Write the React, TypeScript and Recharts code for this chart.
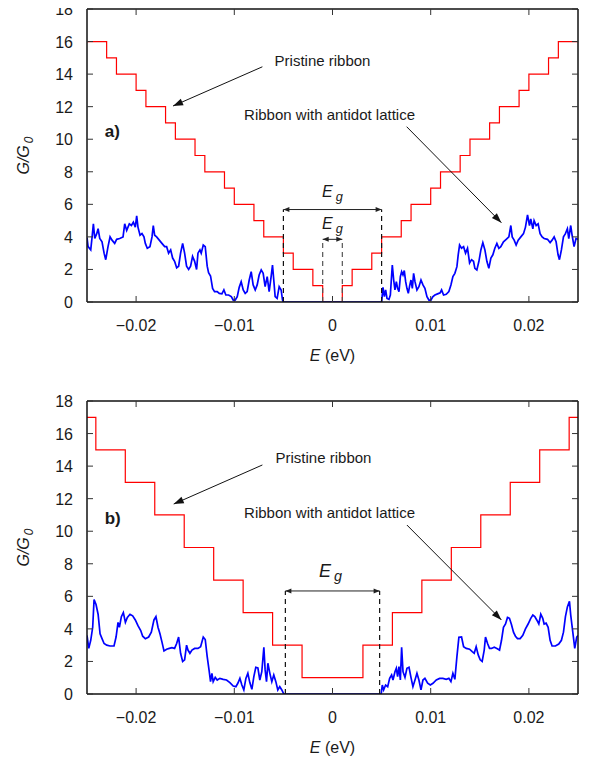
import React from "react";
import { ComposedChart, Line, XAxis, YAxis, ReferenceLine, ReferenceDot } from "recharts";

type Pt = [number, number];

const FONT = "'Liberation Sans', Arial, Helvetica, sans-serif";

const xTicks = [-0.02, -0.01, 0, 0.01, 0.02];
const yTicks = [0, 2, 4, 6, 8, 10, 12, 14, 16, 18];

// pristine ribbon, conductance plateaus (value holds from E onward)
const stepsA: Pt[] = [
  [-0.025, 16], [-0.023, 15], [-0.022, 14], [-0.02, 13], [-0.019, 12], [-0.017, 11],
  [-0.016, 10], [-0.014, 9], [-0.013, 8], [-0.011, 7], [-0.01, 6], [-0.008, 5],
  [-0.007, 4], [-0.005, 3], [-0.004, 2], [-0.002, 1], [-0.001, 0], [0.001, 1],
  [0.002, 2], [0.004, 3], [0.005, 4], [0.007, 5], [0.008, 6], [0.01, 7], [0.011, 8],
  [0.013, 9], [0.014, 10], [0.016, 11], [0.017, 12], [0.019, 13], [0.02, 14],
  [0.022, 15], [0.023, 16], [0.025, 16],
];
const stepsB: Pt[] = [
  [-0.025, 17], [-0.0241, 15], [-0.0211, 13], [-0.0181, 11], [-0.0151, 9], [-0.0121, 7],
  [-0.0091, 5], [-0.0061, 3], [-0.0031, 1], [0.0031, 3], [0.0061, 5], [0.0091, 7],
  [0.0121, 9], [0.0151, 11], [0.0181, 13], [0.0211, 15], [0.0241, 17], [0.025, 17],
];

// ribbon with antidot lattice
const antidotALeft: Pt[] = [
  [-0.025, 3.95], [-0.02489, 3.4], [-0.02462, 3.2], [-0.02448, 4.0], [-0.02435, 4.8], [-0.02421, 3.9],
  [-0.02401, 4.2], [-0.02387, 4.5], [-0.0237, 3.9], [-0.02347, 3.7], [-0.02326, 3.0], [-0.02309, 2.6],
  [-0.02286, 3.4], [-0.02265, 4.0], [-0.02245, 3.8], [-0.02218, 3.6], [-0.02198, 3.85], [-0.02167, 3.9],
  [-0.02133, 4.0], [-0.02116, 4.8], [-0.02096, 4.4], [-0.02069, 4.8], [-0.02048, 4.7], [-0.02028, 4.9],
  [-0.02008, 4.6], [-0.01994, 5.3], [-0.01981, 4.6], [-0.0196, 4.1], [-0.0194, 4.2], [-0.0192, 4.0],
  [-0.01906, 3.6], [-0.01886, 3.3], [-0.01859, 3.4], [-0.01838, 4.0], [-0.01825, 4.7], [-0.01811, 4.1],
  [-0.01791, 4.0], [-0.01764, 3.8], [-0.01737, 3.6], [-0.01709, 3.4], [-0.01689, 3.4], [-0.01669, 3.0],
  [-0.01648, 3.2], [-0.01628, 2.7], [-0.01608, 2.5], [-0.01587, 2.1], [-0.01567, 2.2], [-0.01547, 3.0],
  [-0.01526, 3.6], [-0.01506, 3.0], [-0.01486, 2.2], [-0.01465, 2.0], [-0.01445, 2.2], [-0.01425, 2.8],
  [-0.01404, 2.5], [-0.01384, 2.0], [-0.0137, 3.0], [-0.0135, 3.2], [-0.01337, 3.0], [-0.01316, 3.5],
  [-0.01296, 3.4], [-0.01276, 2.2], [-0.01262, 1.8], [-0.01242, 1.6], [-0.01221, 0.84], [-0.01201, 0.64],
  [-0.01174, 0.64], [-0.01153, 0.53], [-0.01126, 0.5], [-0.01106, 0.74], [-0.01086, 0.43], [-0.01058, 0.43],
  [-0.01031, 0.33], [-0.01011, 0.12], [-0.00991, 0.12], [-0.0097, 0.33], [-0.0095, 0.9], [-0.0093, 1.25],
  [-0.00909, 0.74], [-0.00889, 0.53], [-0.00869, 0.64], [-0.00848, 1.35], [-0.00828, 1.86], [-0.00808, 1.05],
  [-0.00787, 0.74], [-0.00767, 1.05], [-0.00747, 1.66], [-0.00726, 1.97], [-0.00706, 1.76], [-0.00686, 0.94],
  [-0.00665, 1.56], [-0.00645, 0.64], [-0.00625, 1.56], [-0.00611, 2.27], [-0.00598, 1.35], [-0.00584, 0.33],
  [-0.00564, 0.22], [-0.00543, 0.94], [-0.00523, 0.74], [-0.00509, 0.12], [-0.005, 0],
];
const antidotARight: Pt[] = [
  [0.005, 0], [0.00514, 0.9], [0.00528, 0.33], [0.00541, 0.74], [0.00555, 0.22], [0.00575, 0.16],
  [0.00589, 0.43], [0.00609, 2.27], [0.00623, 1.35], [0.00636, 0.74], [0.0065, 1.25], [0.00663, 0.84],
  [0.00677, 0.64], [0.00691, 1.56], [0.00704, 1.86], [0.00718, 1.66], [0.00731, 1.93], [0.00745, 1.25],
  [0.00758, 0.84], [0.00772, 0.53], [0.00785, 0.98], [0.00799, 1.35], [0.00813, 0.84], [0.00826, 1.76],
  [0.0084, 1.25], [0.0086, 0.74], [0.0088, 0.94], [0.00901, 1.35], [0.00921, 1.05], [0.00941, 0.84],
  [0.00962, 0.33], [0.00982, 0.12], [0.01002, 0.12], [0.01023, 0.33], [0.01043, 0.43], [0.0107, 0.5],
  [0.01097, 0.57], [0.01111, 0.74], [0.01131, 0.43], [0.01158, 0.47], [0.01185, 0.64], [0.01206, 1.05],
  [0.01226, 1.56], [0.01246, 1.76], [0.01267, 2.17], [0.0128, 2.9], [0.01294, 3.5], [0.01314, 3.3],
  [0.01335, 3.4], [0.01355, 3.0], [0.01375, 3.3], [0.01396, 2.4], [0.01416, 2.6], [0.01436, 2.5],
  [0.0145, 2.07], [0.0147, 1.97], [0.01491, 2.5], [0.01511, 3.2], [0.01531, 3.65], [0.01552, 3.2],
  [0.01572, 2.5], [0.01592, 2.07], [0.01613, 2.7], [0.01633, 2.9], [0.01653, 3.3], [0.01674, 3.6],
  [0.01694, 3.3], [0.01714, 3.4], [0.01741, 3.7], [0.01769, 3.85], [0.01796, 4.0], [0.01816, 4.7],
  [0.0183, 4.0], [0.0185, 3.8], [0.0187, 3.5], [0.01891, 3.8], [0.01918, 4.0], [0.01945, 4.2],
  [0.01965, 4.6], [0.01986, 5.35], [0.02006, 4.7], [0.02019, 5.1], [0.0204, 4.5], [0.02053, 5.0],
  [0.02074, 4.7], [0.02094, 4.8], [0.02114, 4.2], [0.02135, 4.0], [0.02155, 3.9], [0.02189, 3.85],
  [0.02216, 3.65], [0.02236, 3.8], [0.02257, 4.0], [0.02277, 3.7], [0.02297, 2.9], [0.02311, 2.6],
  [0.02331, 3.2], [0.02352, 4.0], [0.02372, 4.2], [0.02392, 4.5], [0.02406, 3.9], [0.02426, 4.7],
  [0.0244, 4.1], [0.0246, 3.4], [0.0248, 3.9], [0.025, 3.85],
];
const antidotBLeft: Pt[] = [
  [-0.025, 3.6], [-0.02482, 2.8], [-0.02462, 3.3], [-0.02442, 4.1], [-0.02428, 5.8], [-0.02408, 5.5],
  [-0.02387, 4.9], [-0.02367, 3.7], [-0.02347, 3.4], [-0.02326, 3.1], [-0.02299, 3.0], [-0.02265, 2.95],
  [-0.02225, 2.95], [-0.02204, 3.5], [-0.02184, 4.4], [-0.0217, 4.1], [-0.0215, 4.75], [-0.0213, 5.0],
  [-0.02109, 4.4], [-0.02089, 4.7], [-0.02062, 4.9], [-0.02035, 4.8], [-0.02008, 4.55], [-0.01981, 4.2],
  [-0.01953, 3.9], [-0.01933, 3.55], [-0.01906, 3.4], [-0.01872, 3.5], [-0.01845, 3.8], [-0.01818, 4.55],
  [-0.01798, 4.75], [-0.01777, 4.1], [-0.01757, 3.7], [-0.01737, 3.2], [-0.01716, 2.65], [-0.01689, 2.75],
  [-0.01662, 2.8], [-0.01635, 2.85], [-0.01608, 2.8], [-0.01587, 3.1], [-0.01567, 3.5], [-0.01547, 2.5],
  [-0.01526, 2.0], [-0.01506, 2.1], [-0.01486, 3.0], [-0.01472, 2.7], [-0.01452, 2.5], [-0.01431, 2.7],
  [-0.01404, 2.8], [-0.0137, 2.8], [-0.01343, 2.9], [-0.01316, 3.5], [-0.01296, 3.35], [-0.01276, 2.3],
  [-0.01255, 1.37], [-0.01242, 0.76], [-0.01228, 1.27], [-0.01215, 0.76], [-0.01194, 1.02], [-0.01174, 0.86],
  [-0.01147, 0.96], [-0.01113, 0.9], [-0.01079, 0.86], [-0.01045, 0.7], [-0.01011, 0.49], [-0.00984, 0.45],
  [-0.00964, 0.66], [-0.00943, 0.96], [-0.00923, 0.55], [-0.00903, 0.25], [-0.00882, 0.96], [-0.00862, 1.27],
  [-0.00842, 0.7], [-0.00821, 0.29], [-0.00801, 1.07], [-0.00781, 1.64], [-0.0076, 1.6], [-0.0074, 0.86],
  [-0.0072, 1.37], [-0.00699, 2.87], [-0.00686, 1.48], [-0.00672, 0.76], [-0.00658, 1.89], [-0.00638, 1.27],
  [-0.00618, 0.76], [-0.00598, 1.17], [-0.00577, 0.76], [-0.00557, 0.25], [-0.00537, 0.45], [-0.00516, 0.25],
  [-0.00496, 0],
];
const antidotBRight: Pt[] = [
  [0.00496, 0], [0.00507, 0.55], [0.00521, 0.25], [0.00541, 0.55], [0.00562, 0.45], [0.00582, 0.96],
  [0.00602, 1.17], [0.00616, 0.86], [0.00636, 1.37], [0.0065, 1.58], [0.00663, 1.07], [0.00677, 1.68],
  [0.00691, 0.86], [0.00704, 2.87], [0.00718, 1.37], [0.00738, 1.02], [0.00758, 1.58], [0.00779, 1.64],
  [0.00799, 1.02], [0.00819, 0.45], [0.0084, 0.86], [0.0086, 1.27], [0.0088, 0.86], [0.00901, 0.25],
  [0.00921, 0.86], [0.00941, 0.96], [0.00969, 0.66], [0.00996, 0.55], [0.01023, 0.66], [0.01057, 0.86],
  [0.01091, 0.96], [0.01124, 0.96], [0.01158, 0.9], [0.01185, 0.96], [0.01206, 0.76], [0.01226, 1.27],
  [0.01246, 0.9], [0.01267, 2.3], [0.01287, 3.48], [0.01314, 3.5], [0.01335, 2.9], [0.01362, 2.8],
  [0.01396, 2.75], [0.01423, 2.6], [0.01443, 2.5], [0.01463, 2.9], [0.01484, 2.4], [0.01504, 2.1],
  [0.01524, 2.0], [0.01545, 2.7], [0.01558, 3.5], [0.01579, 3.1], [0.01599, 2.8], [0.01619, 2.8],
  [0.01647, 2.87], [0.01674, 2.8], [0.01701, 2.7], [0.01721, 3.3], [0.01741, 4.1], [0.01762, 4.3],
  [0.01782, 4.7], [0.01802, 4.65], [0.01823, 4.25], [0.01843, 3.8], [0.01863, 3.55], [0.01884, 3.4],
  [0.01911, 3.4], [0.01938, 3.6], [0.01965, 4.0], [0.01992, 4.3], [0.02019, 4.65], [0.0204, 4.85],
  [0.0206, 4.75], [0.0208, 4.55], [0.02101, 4.3], [0.02121, 4.9], [0.02141, 4.65], [0.02155, 4.3],
  [0.02175, 4.35], [0.02196, 4.1], [0.02216, 3.3], [0.02236, 2.95], [0.0227, 2.95], [0.02304, 3.07],
  [0.02331, 3.3], [0.02352, 3.8], [0.02372, 4.75], [0.02392, 5.35], [0.02413, 5.7], [0.02426, 4.85],
  [0.02447, 3.8], [0.02467, 2.8], [0.02487, 3.5], [0.025, 3.6],
];

const toRows = (pts: Pt[]) => pts.map(([E, G]) => ({ E, G }));

type Gap = { half: number; level: number; labelAt: Pt; font: number; color: string };
type Note = {
  tag: string;
  tagAt: Pt;
  pristineAt: Pt;
  pristineArrow: [Pt, Pt];
  antidotAt: Pt;
  antidotArrow: [Pt, Pt];
  gaps: Gap[];
};

const noteA: Note = {
  tag: "a)",
  tagAt: [-0.0232, 10.5],
  pristineAt: [-0.0059, 14.8],
  pristineArrow: [[-0.00714, 14.45], [-0.01624, 12.04]],
  antidotAt: [-0.009, 11.49],
  antidotArrow: [[0.00755, 10.77], [0.0172, 4.87]],
  gaps: [
    { half: 0.005, level: 5.68, labelAt: [0, 6.8], font: 16, color: "#111" },
    { half: 0.001, level: 3.85, labelAt: [0, 4.85], font: 16, color: "#555" },
  ],
};
const noteB: Note = {
  tag: "b)",
  tagAt: [-0.0232, 10.81],
  pristineAt: [-0.0058, 14.5],
  pristineArrow: [[-0.00714, 14.07], [-0.01617, 11.67]],
  antidotAt: [-0.009, 11.12],
  antidotArrow: [[0.00758, 10.38], [0.0172, 4.55]],
  gaps: [{ half: 0.0048, level: 6.33, labelAt: [-0.0002, 7.6], font: 18, color: "#111" }],
};

const fmtX = (v: number) => (v === 0 ? "0" : v < 0 ? "\u2212" + Math.abs(v) : String(v));

const BottomTick = (p: any) => (
  <g>
    <line x1={p.x} y1={p.y} x2={p.x} y2={p.y - 6} stroke="#333" strokeWidth={1} />
    <text x={p.x} y={p.y + 29} textAnchor="middle" fontSize={16} fill="#1a1a1a" fontFamily={FONT}>
      {fmtX(p.payload.value)}
    </text>
  </g>
);
const TopTick = (p: any) => <line x1={p.x} y1={p.y} x2={p.x} y2={p.y + 6} stroke="#333" strokeWidth={1} />;
const LeftTick = (p: any) => (
  <g>
    <line x1={p.x} y1={p.y} x2={p.x + 6} y2={p.y} stroke="#333" strokeWidth={1} />
    <text x={p.x - 14} y={p.y + 6} textAnchor="end" fontSize={16} fill="#1a1a1a" fontFamily={FONT}>
      {p.payload.value}
    </text>
  </g>
);
const RightTick = (p: any) => <line x1={p.x} y1={p.y} x2={p.x - 6} y2={p.y} stroke="#333" strokeWidth={1} />;

const XLabel = (p: any) => {
  const { x, y, width } = p.viewBox;
  return (
    <text x={x + width / 2} y={y + 59} textAnchor="middle" fontSize={16} fill="#1a1a1a" fontFamily={FONT}>
      <tspan fontStyle="italic">E</tspan> (eV)
    </text>
  );
};
const YLabel = (p: any) => {
  const { x, y, height } = p.viewBox;
  const cx = x + 21;
  const cy = y + height / 2;
  return (
    <text x={cx} y={cy} transform={`rotate(-90 ${cx} ${cy})`} textAnchor="middle" fontSize={16} fill="#1a1a1a" fontFamily={FONT}>
      <tspan fontStyle="italic">G/G</tspan>
      <tspan fontStyle="italic" fontSize={12} dx={2} dy={4}>0</tspan>
    </text>
  );
};

function arrowShape(both: boolean, head: number, half: number, color: string) {
  return (p: any) => {
    const { x1, y1, x2, y2 } = p;
    const len = Math.hypot(x2 - x1, y2 - y1) || 1;
    const ux = (x2 - x1) / len;
    const uy = (y2 - y1) / len;
    const tri = (tx: number, ty: number, sx: number, sy: number) =>
      `${tx},${ty} ${tx - sx * head - sy * half},${ty - sy * head + sx * half} ${tx - sx * head + sy * half},${ty - sy * head - sx * half}`;
    return (
      <g>
        <line x1={x1} y1={y1} x2={x2} y2={y2} stroke={color} strokeWidth={1} />
        <polygon points={tri(x2, y2, ux, uy)} fill={color} />
        {both && <polygon points={tri(x1, y1, -ux, -uy)} fill={color} />}
      </g>
    );
  };
}

const textShape = (content: React.ReactNode, size: number, weight = "normal", anchor = "start") => (p: any) => (
  <text x={p.cx} y={p.cy} dy="0.35em" textAnchor={anchor} fontSize={size} fontWeight={weight} fill="#1a1a1a" fontFamily={FONT}>
    {content}
  </text>
);

const gapLabel = (size: number) => (
  <>
    <tspan fontStyle="italic">E</tspan>
    <tspan fontStyle="italic" fontSize={size * 0.8} dx={3} dy={size * 0.25}>g</tspan>
  </>
);

function Panel(props: { steps: Pt[]; antidot: Pt[]; note: Note; height: number; top: number; axisHeight: number }) {
  const { steps, antidot, note, height, top, axisHeight } = props;
  const frame = { stroke: "#111", strokeWidth: 1.5 };
  return (
    <ComposedChart width={590} height={height} margin={{ top, right: 11, bottom: 0, left: 8 }} style={{ overflow: "visible" }}>
      <XAxis
        type="number"
        dataKey="E"
        domain={[-0.025, 0.025]}
        ticks={xTicks}
        allowDataOverflow
        interval={0}
        height={axisHeight}
        tickSize={0}
        tickMargin={0}
        tickLine={false}
        tick={BottomTick}
        axisLine={frame}
        label={XLabel}
      />
      <XAxis
        xAxisId="top"
        orientation="top"
        type="number"
        dataKey="E"
        domain={[-0.025, 0.025]}
        ticks={xTicks}
        allowDataOverflow
        interval={0}
        height={1}
        tickSize={0}
        tickMargin={0}
        tickLine={false}
        tick={TopTick}
        axisLine={frame}
      />
      <YAxis
        type="number"
        domain={[0, 18]}
        ticks={yTicks}
        allowDataOverflow
        interval={0}
        width={79}
        tickSize={0}
        tickMargin={0}
        tickLine={false}
        tick={LeftTick}
        axisLine={frame}
        label={YLabel}
      />
      <YAxis
        yAxisId="right"
        orientation="right"
        type="number"
        domain={[0, 18]}
        ticks={yTicks}
        allowDataOverflow
        interval={0}
        width={1}
        tickSize={0}
        tickMargin={0}
        tickLine={false}
        tick={RightTick}
        axisLine={frame}
      />

      <Line
        xAxisId="top"
        yAxisId="right"
        data={toRows(steps)}
        dataKey="G"
        type="stepAfter"
        stroke="#ff0000"
        strokeWidth={1.2}
        dot={false}
        isAnimationActive={false}
      />
      <Line data={toRows(antidot)} dataKey="G" type="linear" stroke="#0000ff" strokeWidth={1.7} dot={false} isAnimationActive={false} />

      {note.gaps.map((g, i) => (
        <ReferenceLine key={`dl${i}`} segment={[{ x: -g.half, y: 0 }, { x: -g.half, y: g.level }]} stroke={g.color} strokeWidth={1.2} strokeDasharray="5 4" />
      ))}
      {note.gaps.map((g, i) => (
        <ReferenceLine key={`dr${i}`} segment={[{ x: g.half, y: 0 }, { x: g.half, y: g.level }]} stroke={g.color} strokeWidth={1.2} strokeDasharray="5 4" />
      ))}
      {note.gaps.map((g, i) => (
        <ReferenceLine key={`ga${i}`} segment={[{ x: -g.half, y: g.level }, { x: g.half, y: g.level }]} shape={arrowShape(true, 6, 2.5, "#222")} />
      ))}
      {note.gaps.map((g, i) => (
        <ReferenceDot key={`gl${i}`} x={g.labelAt[0]} y={g.labelAt[1]} r={0} shape={textShape(gapLabel(g.font), g.font, "normal", "middle")} />
      ))}

      <ReferenceLine
        segment={[{ x: note.pristineArrow[0][0], y: note.pristineArrow[0][1] }, { x: note.pristineArrow[1][0], y: note.pristineArrow[1][1] }]}
        shape={arrowShape(false, 10, 3.5, "#111")}
      />
      <ReferenceLine
        segment={[{ x: note.antidotArrow[0][0], y: note.antidotArrow[0][1] }, { x: note.antidotArrow[1][0], y: note.antidotArrow[1][1] }]}
        shape={arrowShape(false, 10, 3.5, "#111")}
      />
      <ReferenceDot x={note.pristineAt[0]} y={note.pristineAt[1]} r={0} shape={textShape("Pristine ribbon", 15)} />
      <ReferenceDot x={note.antidotAt[0]} y={note.antidotAt[1]} r={0} shape={textShape("Ribbon with antidot lattice", 15)} />
      <ReferenceDot x={note.tagAt[0]} y={note.tagAt[1]} r={0} shape={textShape(note.tag, 17, "bold")} />
    </ComposedChart>
  );
}

export default function App() {
  return (
    <div style={{ width: 590, marginTop: -8, marginLeft: -8, fontFamily: FONT, background: "#fff" }}>
      <Panel steps={stepsA} antidot={[...antidotALeft, ...antidotARight]} note={noteA} height={388} top={8} axisHeight={86} />
      <Panel steps={stepsB} antidot={[...antidotBLeft, ...antidotBRight]} note={noteB} height={368} top={12} axisHeight={62} />
    </div>
  );
}
